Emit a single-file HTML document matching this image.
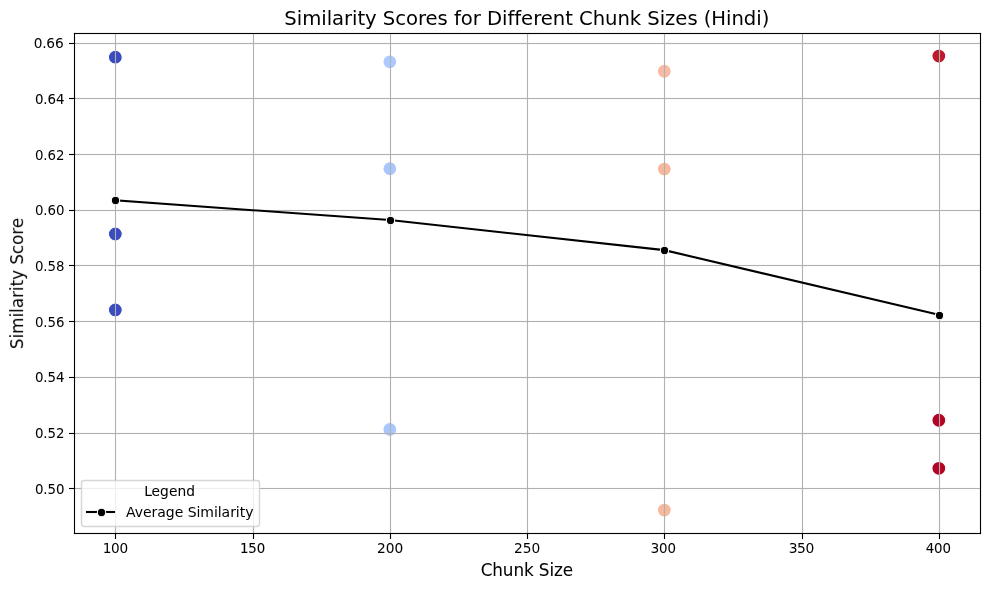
<!DOCTYPE html>
<html lang="en"><head><meta charset="utf-8"><title>Similarity Scores for Different Chunk Sizes (Hindi)</title>
<style>html,body{margin:0;padding:0;background:#ffffff;overflow:hidden;width:989px;height:590px}svg{display:block}</style>
</head><body>
<svg width="989" height="590" viewBox="0 0 989 590" style="will-change:transform">
<rect width="989" height="590" fill="#ffffff"/>
<defs><clipPath id="ax"><rect x="74.153" y="33.333" width="905.847" height="499.389"/></clipPath></defs>
<g clip-path="url(#ax)" stroke="#ffffff" stroke-width="1.111">
<circle cx="115.328" cy="57.144" r="6.944" fill="#3b4cc0"/>
<circle cx="115.328" cy="234" r="6.944" fill="#3b4cc0"/>
<circle cx="115.328" cy="309.978" r="6.944" fill="#3b4cc0"/>
<circle cx="389.827" cy="61.804" r="6.944" fill="#adc9fe"/>
<circle cx="389.827" cy="168.701" r="6.944" fill="#aac7fd"/>
<circle cx="389.827" cy="429.446" r="6.944" fill="#aac7fd"/>
<circle cx="664.326" cy="71.244" r="6.944" fill="#f6bba2"/>
<circle cx="664.326" cy="169.102" r="6.944" fill="#f7b89c"/>
<circle cx="664.326" cy="510.023" r="6.944" fill="#f7b89c"/>
<circle cx="938.825" cy="56.033" r="6.944" fill="#bb1b2c"/>
<circle cx="938.825" cy="420.256" r="6.944" fill="#b40426"/>
<circle cx="938.825" cy="468.294" r="6.944" fill="#b40426"/>
</g>
<g fill="#b0b0b0"><rect x="114.944" y="33.5" width="1.111" height="500"/><rect x="252.944" y="33.5" width="1.111" height="500"/><rect x="389.944" y="33.5" width="1.111" height="500"/><rect x="526.944" y="33.5" width="1.111" height="500"/><rect x="663.944" y="33.5" width="1.111" height="500"/><rect x="801.944" y="33.5" width="1.111" height="500"/><rect x="938.944" y="33.5" width="1.111" height="500"/><rect x="74.5" y="487.944" width="906" height="1.111"/><rect x="74.5" y="432.944" width="906" height="1.111"/><rect x="74.5" y="376.944" width="906" height="1.111"/><rect x="74.5" y="320.944" width="906" height="1.111"/><rect x="74.5" y="264.944" width="906" height="1.111"/><rect x="74.5" y="209.944" width="906" height="1.111"/><rect x="74.5" y="153.944" width="906" height="1.111"/><rect x="74.5" y="97.944" width="906" height="1.111"/><rect x="74.5" y="42.944" width="906" height="1.111"/></g>
<g fill="#000000"><rect x="114.944" y="533.5" width="1.111" height="5.5"/><rect x="252.944" y="533.5" width="1.111" height="5.5"/><rect x="389.944" y="533.5" width="1.111" height="5.5"/><rect x="526.944" y="533.5" width="1.111" height="5.5"/><rect x="663.944" y="533.5" width="1.111" height="5.5"/><rect x="801.944" y="533.5" width="1.111" height="5.5"/><rect x="938.944" y="533.5" width="1.111" height="5.5"/><rect x="69" y="487.944" width="5.5" height="1.111"/><rect x="69" y="432.944" width="5.5" height="1.111"/><rect x="69" y="376.944" width="5.5" height="1.111"/><rect x="69" y="320.944" width="5.5" height="1.111"/><rect x="69" y="264.944" width="5.5" height="1.111"/><rect x="69" y="209.944" width="5.5" height="1.111"/><rect x="69" y="153.944" width="5.5" height="1.111"/><rect x="69" y="97.944" width="5.5" height="1.111"/><rect x="69" y="42.944" width="5.5" height="1.111"/></g>
<polyline clip-path="url(#ax)" points="115.328,200.374 389.827,219.984 664.326,250.123 938.825,314.861" fill="none" stroke="#000000" stroke-width="2.083" stroke-linecap="square" stroke-linejoin="round"/>
<g clip-path="url(#ax)" fill="#000000" stroke="#ffffff" stroke-width="1.042"><circle cx="115.5" cy="200.5" r="4.167"/><circle cx="390.5" cy="220.5" r="4.167"/><circle cx="664.5" cy="250.5" r="4.167"/><circle cx="939.5" cy="315.5" r="4.167"/></g>
<g fill="#000000"><rect x="73.944" y="32.944" width="1.111" height="501.111"/><rect x="979.944" y="32.944" width="1.111" height="501.111"/><rect x="73.944" y="532.944" width="907.111" height="1.111"/><rect x="73.944" y="32.944" width="907.111" height="1.111"/></g>
<path d="M 84.278 526.5 L 256.722 526.5 Q 259.5 526.5 259.5 523.722 L 259.5 483.278 Q 259.5 480.5 256.722 480.5 L 84.278 480.5 Q 81.5 480.5 81.5 483.278 L 81.5 523.722 Q 81.5 526.5 84.278 526.5 Z" fill="#ffffff" fill-opacity="0.8" stroke="#cccccc" stroke-opacity="0.8" stroke-width="1.389"/>
<rect x="85.958" y="510.958" width="29.083" height="2.083" fill="#000000"/>
<circle cx="101.5" cy="512.5" r="4.167" fill="#000000" stroke="#ffffff" stroke-width="1.042"/>
<g font-family="'DejaVu Sans', 'Liberation Sans', sans-serif" fill="#000000" style="will-change:transform"><text x="115.328" y="552.748" font-size="13.611" text-anchor="middle" letter-spacing="-0.2">100</text>
<text x="252.577" y="552.748" font-size="13.333" text-anchor="middle" stroke="#000000" stroke-width="0.1" letter-spacing="-0.05">150</text>
<text x="390.077" y="552.748" font-size="13.75" text-anchor="middle" stroke="#000000" stroke-width="0.05" letter-spacing="-0.1">200</text>
<text x="527.076" y="552.748" font-size="13.75" text-anchor="middle">250</text>
<text x="663.326" y="552.748" font-size="13.333" text-anchor="middle" stroke="#000000" stroke-width="0.05" letter-spacing="-0.05">300</text>
<text x="801.326" y="552.748" font-size="13.872" text-anchor="middle" letter-spacing="-0.4">350</text>
<text x="938.325" y="552.748" font-size="13.333" text-anchor="middle" stroke="#000000" stroke-width="0.05" letter-spacing="-0.05">400</text>
<text x="526.826" y="575.606" font-size="16.833" text-anchor="middle" stroke="#000000" stroke-width="0.05" letter-spacing="-0.1">Chunk Size</text>
<text x="64.431" y="493.601" font-size="13.333" text-anchor="end" stroke="#000000" stroke-width="0.05" letter-spacing="-0.05">0.50</text>
<text x="64.431" y="437.642" font-size="13.333" text-anchor="end" stroke="#000000" stroke-width="0.05" letter-spacing="-0.05">0.52</text>
<text x="64.431" y="381.683" font-size="13.333" text-anchor="end" stroke="#000000" stroke-width="0.05" letter-spacing="-0.05">0.54</text>
<text x="64.431" y="326.725" font-size="13.333" text-anchor="end" letter-spacing="-0.05">0.56</text>
<text x="64.431" y="270.516" font-size="13.333" text-anchor="end" letter-spacing="-0.05">0.58</text>
<text x="64.431" y="214.557" font-size="13.333" text-anchor="end" letter-spacing="-0.05">0.60</text>
<text x="64.431" y="159.599" font-size="13.333" text-anchor="end" letter-spacing="-0.05">0.62</text>
<text x="64.431" y="103.64" font-size="13.333" text-anchor="end" stroke="#000000" stroke-width="0.05" letter-spacing="-0.05">0.64</text>
<text x="63.431" y="47.681" font-size="13.747" text-anchor="end" letter-spacing="-0.2">0.66</text>
<text x="23.484" y="283.403" font-size="16.833" text-anchor="middle" letter-spacing="-0.05" transform="rotate(-90 23.484 283.403)">Similarity Score</text>
<text x="526.826" y="24.5" font-size="19.639" text-anchor="middle" letter-spacing="-0.05">Similarity Scores for Different Chunk Sizes (Hindi)</text>
<text x="144.143" y="495.947" font-size="13.75" text-anchor="start" stroke="#000000" stroke-width="0.05" letter-spacing="0.05">Legend</text>
<text x="126.042" y="516.584" font-size="14.028" text-anchor="start" letter-spacing="-0.05">Average Similarity</text></g>
</svg>
</body></html>
